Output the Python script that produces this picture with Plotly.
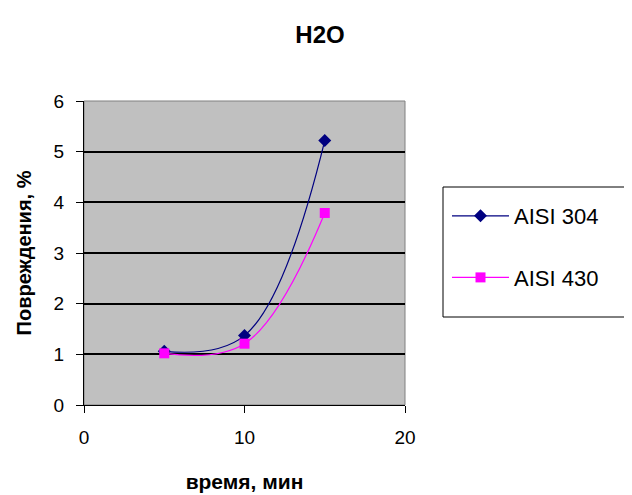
import plotly.graph_objects as go

time_min = [5, 10, 15]
aisi_304 = [1.06, 1.37, 5.22]
aisi_430 = [1.02, 1.21, 3.79]
series_names = ["AISI 304", "AISI 430"]

FONT = "Liberation Sans, Arial, sans-serif"

fig = go.Figure()
fig.add_trace(go.Scatter(
    x=time_min, y=aisi_304, name=series_names[0], mode="lines+markers",
    line=dict(color="#000080", width=1.2, shape="spline", smoothing=1.1),
    marker=dict(symbol="diamond", size=10, color="#000080"),
    legendgroup="a"))
fig.add_trace(go.Scatter(
    x=time_min, y=aisi_430, name=series_names[1], mode="lines+markers",
    line=dict(color="#FF00FF", width=1.2, shape="spline", smoothing=1.1),
    marker=dict(symbol="square", size=10, color="#FF00FF"),
    legendgroup="b"))

OFF = 8  # page body margin
W, H = 632, 495
PL, PR, PT, PB = 84, 405, 101, 405  # plot area in screen pixels
pw = PR - PL
ph = PB - PT
L = PL - OFF
T = PT - OFF
R = W - L - pw
B = H - T - ph

def px_x(p):
    return (p - PL) / pw

def px_y(p):
    return (PB - p) / ph

fig.add_shape(type="rect", xref="paper", yref="paper",
              x0=px_x(443), x1=px_x(631), y0=px_y(317), y1=px_y(187),
              line=dict(color="black", width=1), fillcolor="rgba(0,0,0,0)")

fig.update_layout(
    width=W, height=H,
    margin=dict(l=L, r=R, t=T, b=B),
    paper_bgcolor="white", plot_bgcolor="#C0C0C0",
    font=dict(family=FONT, size=19, color="black"),
    title=dict(text="<b>H2O</b>", x=px_x(320), xref="paper", xanchor="center",
               y=1 - (35 - OFF) / H, yanchor="middle", font=dict(size=24)),
    showlegend=True,
    legend=dict(x=px_x(447), y=px_y(195), xanchor="left", yanchor="top",
                bgcolor="rgba(0,0,0,0)", borderwidth=0,
                font=dict(size=22), traceorder="grouped", tracegroupgap=30,
                itemwidth=57),
    xaxis=dict(range=[0, 20], tickvals=[0, 10, 20], showgrid=False,
               zeroline=False, showline=True, linecolor="black", linewidth=1,
               ticks="outside", ticklen=7, tickcolor="black", mirror=False,
               ticklabelstandoff=8,
               title=dict(text="<b>время, мин</b>", font=dict(size=21), standoff=27)),
    yaxis=dict(range=[0, 6], tickvals=[0, 1, 2, 3, 4, 5, 6], showgrid=True,
               gridcolor="black", gridwidth=1.5, zeroline=False,
               showline=True, linecolor="black", linewidth=1,
               ticks="outside", ticklen=7, tickcolor="black",
               ticklabelstandoff=8,
               title=dict(text="<b>Повреждения, %</b>", font=dict(size=20), standoff=16)),
)

fig.add_shape(type="rect", xref="paper", yref="paper", x0=0, x1=1, y0=0, y1=1,
              line=dict(color="#808080", width=1), fillcolor="rgba(0,0,0,0)", layer="below")

fig.write_html("out.html")
